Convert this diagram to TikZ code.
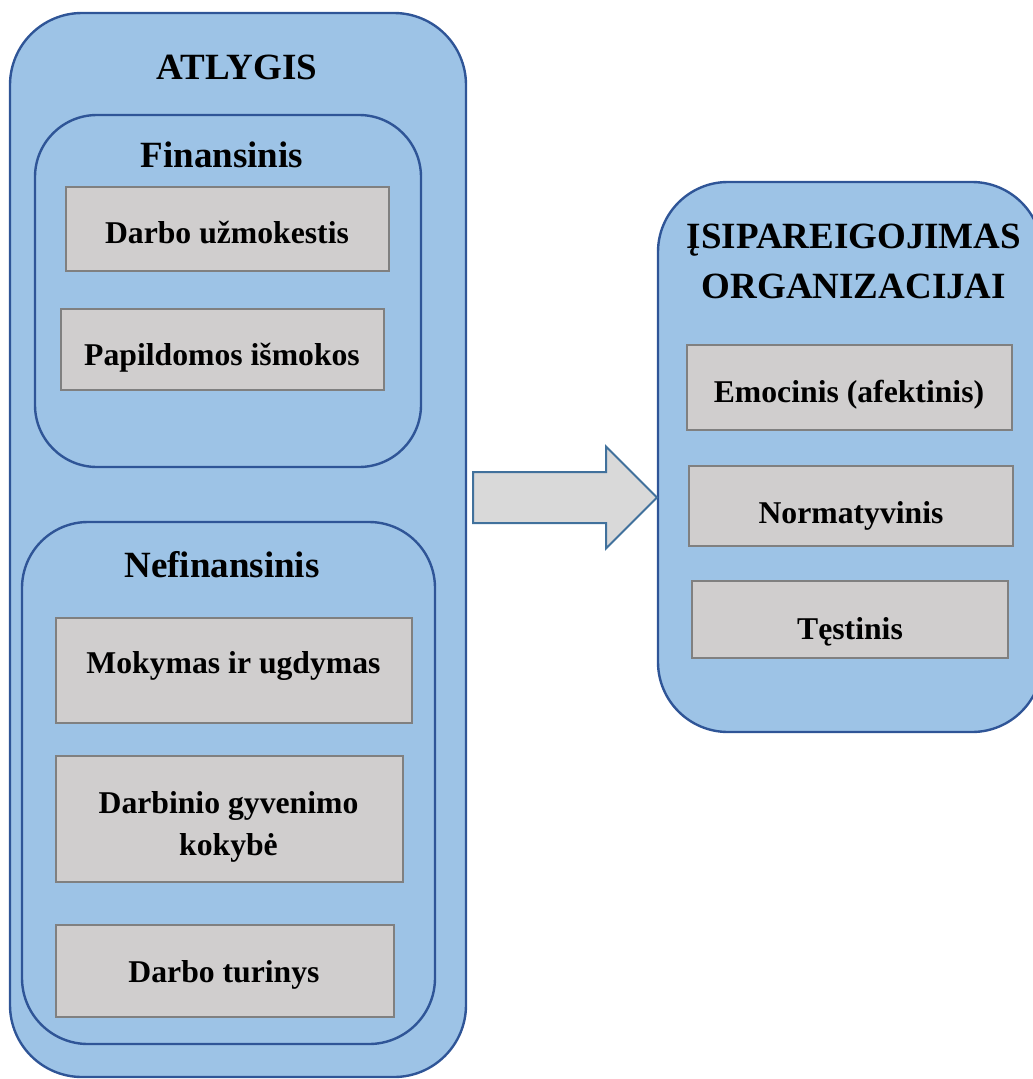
\documentclass[tikz,border=0pt]{standalone}
\usepackage{fontspec}
\setmainfont{Liberation Serif}
\usetikzlibrary{shapes.arrows}

\definecolor{panelfill}{HTML}{9DC3E6}
\definecolor{paneldraw}{HTML}{2F5597}
\definecolor{itemfill}{HTML}{D0CECE}
\definecolor{itemdraw}{HTML}{808080}
\definecolor{arrowfill}{HTML}{D9D9D9}
\definecolor{arrowdraw}{HTML}{41719C}

\tikzset{
  panel/.style={rectangle, rounded corners=#1, fill=panelfill, draw=paneldraw,
    line width=2.4pt, inner sep=0pt, outer sep=0pt},
  itembox/.style={rectangle, fill=itemfill, draw=itemdraw, line width=2pt,
    inner sep=0pt, outer sep=0pt},
  titletext/.style={anchor=base, inner sep=0pt, align=center,
    font=\fontsize{37}{50}\selectfont\bfseries},
  itemtext/.style={anchor=base, inner sep=0pt, align=center,
    font=\fontsize{31.7}{42}\selectfont\bfseries},
}

% placement helper: box from its top-left and bottom-right corners (pt, y down)
\newcommand{\boxat}[6]{%
  \node[#1, minimum width={(#5)-(#3)}, minimum height={(#6)-(#4)}]
    (#2) at ({((#3)+(#5))/2}, {((#4)+(#6))/2}) {};}

\begin{document}
\begin{tikzpicture}[x=1pt, y=-1pt]
\useasboundingbox (0,0) rectangle (1033,1079);

% ---- left panel: ATLYGIS ----
\boxat{panel=72pt}{atlygis}{10}{13}{466}{1077}
\node[titletext] (atlygisT) at (237,79) {ATLYGIS};

\boxat{panel=62pt}{fin}{35}{115}{421}{467}
\node[titletext] (finT) at (222,167) {Finansinis};
\boxat{itembox}{alga}{66}{187}{389}{271}
\node[itemtext] (algaT) at (227,243) {Darbo užmokestis};
\boxat{itembox}{ismokos}{61}{309}{384}{390}
\node[itemtext] (ismokosT) at (222,365) {Papildomos išmokos};

\boxat{panel=66pt}{nefin}{22}{522}{435}{1044}
\node[titletext] (nefinT) at (222,577) {Nefinansinis};
\boxat{itembox}{mokymas}{56}{618}{412}{723}
\node[itemtext] (mokymasT) at (233.5,673) {Mokymas ir ugdymas};
\boxat{itembox}{kokybe}{56}{756}{403}{882}
% base anchor of a two-line node sits on its last line
\node[itemtext] (kokybeT) at (228.5,855) {Darbinio gyvenimo\\kokybė};
\boxat{itembox}{turinys}{56}{925}{394}{1017}
\node[itemtext] (turinysT) at (224,982) {Darbo turinys};

% ---- right panel: commitment ----
\boxat{panel=70pt}{isip}{658}{182}{1042}{732}
\node[titletext] (isipT) at (854,298) {ĮSIPAREIGOJIMAS\\ORGANIZACIJAI};
\boxat{itembox}{emoc}{687}{345}{1012}{430}
\node[itemtext] (emocT) at (849,402) {Emocinis (afektinis)};
\boxat{itembox}{norm}{689}{466}{1013}{546}
\node[itemtext] (normT) at (851,523) {Normatyvinis};
\boxat{itembox}{test}{692}{581}{1008}{658}
\node[itemtext] (testT) at (850,639) {Tęstinis};

% ---- block arrow between the panels ----
\node[single arrow, anchor=tail, fill=arrowfill, draw=arrowdraw, line width=2pt,
  inner sep=0pt, inner ysep=24.5pt, minimum height=184pt,
  single arrow head extend=25.5pt, single arrow tip angle=90]
  (flow) at (472,497.5) {};
\end{tikzpicture}
\end{document}
